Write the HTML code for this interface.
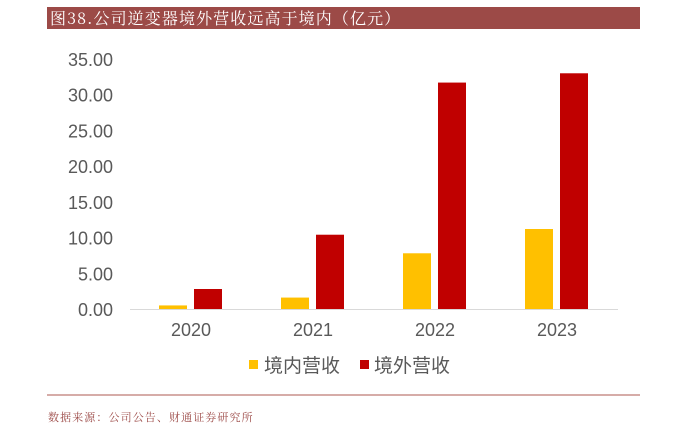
<!DOCTYPE html>
<html><head><meta charset="utf-8"><style>
body{margin:0;background:#fff;width:677px;height:423px;overflow:hidden;font-family:"Liberation Sans","Noto Sans CJK SC",sans-serif;}
</style></head><body>
<svg width="677" height="423">
<rect x="47" y="7" width="593" height="22" fill="#9c4a47"/>
<text x="50" y="24" fill="#fff" font-size="16" letter-spacing="1.1" font-family="'Noto Serif CJK SC',serif">图38.公司逆变器境外营收远高于境内（亿元）</text>
<g id="plot"></g>
<line x1="47" y1="395" x2="640" y2="395" stroke="#c9908c" stroke-width="1.5"/>
<text x="48" y="421" fill="#9c4a47" font-size="11" letter-spacing="1.1" font-family="'Noto Serif CJK SC',serif">数据来源：公司公告、财通证券研究所</text>
<rect x="249" y="360" width="9" height="9" fill="#ffc000"/>
<text x="264" y="372" font-size="19" fill="#595959">境内营收</text>
<rect x="360" y="360" width="9" height="9" fill="#c00000"/>
<text x="374" y="372" font-size="19" fill="#595959">境外营收</text>
</svg>
<script>
const categories=["2020","2021","2022","2023"];
const domestic=[0.5,1.6,7.8,11.2];
const overseas=[2.8,10.4,31.7,33.0];
const yTicks=[0,5,10,15,20,25,30,35];
const g=document.getElementById('plot');
const NS="http://www.w3.org/2000/svg";
const y0=309,yTop=59,yMax=35,x0=130,x1=618;
const y=v=>y0-(v/yMax)*(y0-yTop);
const band=(x1-x0)/categories.length;
const cx=i=>x0+band*(i+0.5);
function mk(t,a){const e=document.createElementNS(NS,t);for(const k in a)e.setAttribute(k,a[k]);g.appendChild(e);return e;}
yTicks.forEach(v=>{const t=mk('text',{x:113,y:y(v)+7,'text-anchor':'end','font-size':18,fill:'#595959'});t.textContent=v.toFixed(2);

});
const ax=mk('line',{x1:x0,y1:y0+0.5,x2:x1,y2:y0+0.5,stroke:'#d9d9d9'});


categories.forEach((c,i)=>{
const a=mk('rect',{x:cx(i)-32,y:y(domestic[i]),width:28,height:y0-y(domestic[i]),fill:'#ffc000'});


const b=mk('rect',{x:cx(i)+3,y:y(overseas[i]),width:28,height:y0-y(overseas[i]),fill:'#c00000'});


const t=mk('text',{x:cx(i),y:336,'text-anchor':'middle','font-size':18,fill:'#595959'});t.textContent=c;


});
</script>
</body></html>
